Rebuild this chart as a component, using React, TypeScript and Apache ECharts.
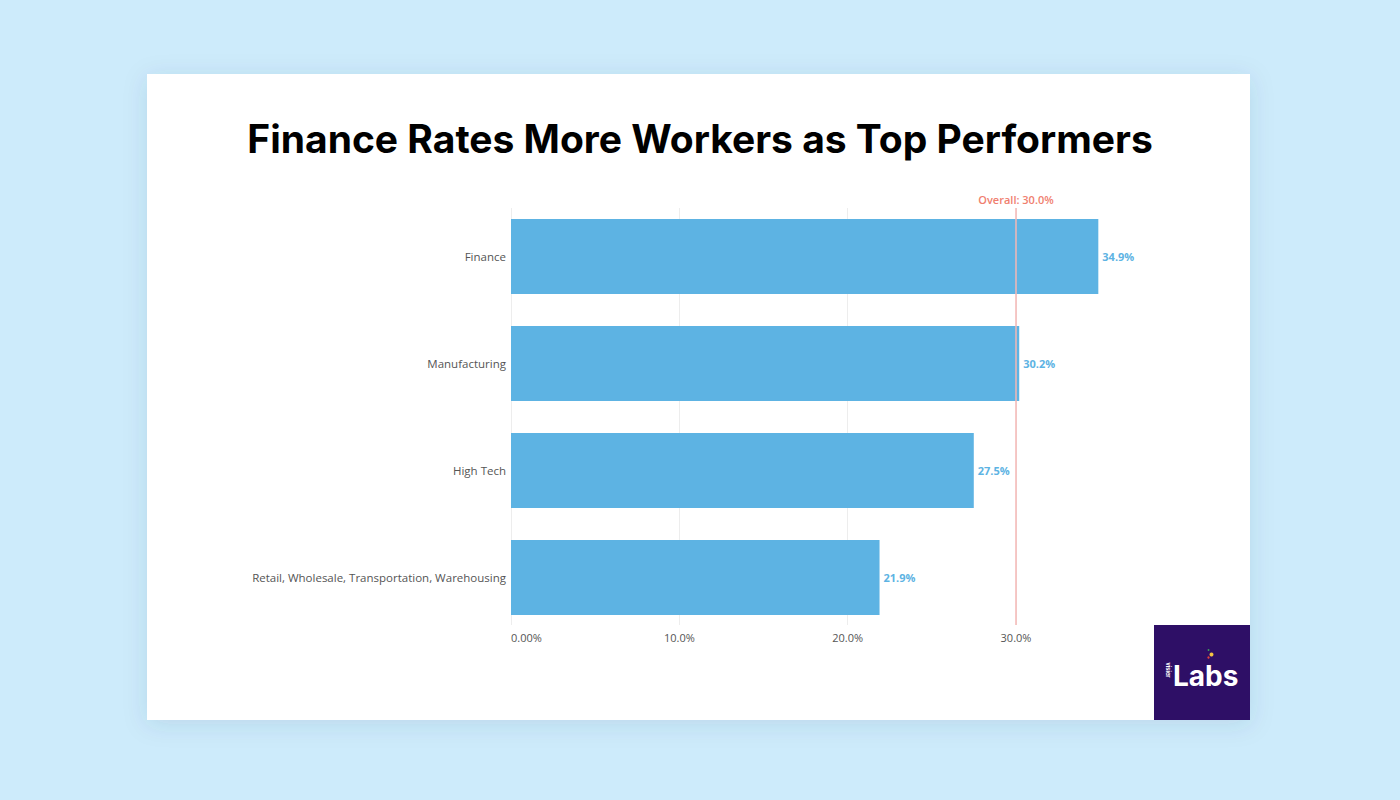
import React, { useEffect, useRef } from "react";
import * as echarts from "echarts";

const categories = [
  "Finance",
  "Manufacturing",
  "High Tech",
  "Retail, Wholesale, Transportation, Warehousing",
];
const values = [34.9, 30.2, 27.5, 21.9];
const overall = 30.0;
const tickValues = [0, 10, 20, 30];
const titleText = "Finance Rates More Workers as Top Performers";

const BAR = "#5DB3E3";
const LINE = "#F5B7B5";
const LINE_TEXT = "#F07E6E";

export default function App() {
  const ref = useRef<HTMLDivElement>(null);
  useEffect(() => {
    if (!ref.current) return;
    const chart = echarts.init(ref.current, undefined, { renderer: "svg" });
    const fmt = (v: number) => (v === 0 ? "0.00%" : v.toFixed(1) + "%");
    chart.setOption({
      animation: false,
      backgroundColor: "#CDEBFB",
      textStyle: { fontFamily: "Open Sans" },
      title: {
        text: titleText,
        left: "center",
        top: 114,
        textStyle: {
          fontFamily: "Inter",
          fontWeight: 700,
          fontSize: 39,
          color: "#000000",
        },
      },
      graphic: [
        {
          type: "rect",
          z: -10,
          shape: { x: 147, y: 74, width: 1103, height: 646 },
          style: {
            fill: "#ffffff",
            shadowBlur: 24,
            shadowColor: "rgba(40,80,110,0.12)",
            shadowOffsetY: 4,
          },
        },
        {
          type: "group",
          x: 1154,
          y: 625,
          z: 10,
          children: [
            { type: "rect", shape: { x: 0, y: 0, width: 96, height: 95 }, style: { fill: "#2E0F66" } },
            {
              type: "text",
              x: 19,
              y: 51,
              style: {
                text: "Labs",
                fill: "#ffffff",
                fontFamily: "Inter",
                fontWeight: 700,
                fontSize: 28,
                verticalAlign: "middle",
              },
            },
            {
              type: "text",
              x: 13.5,
              y: 45,
              rotation: -Math.PI / 2,
              style: {
                text: "visier",
                fill: "#ffffff",
                fontFamily: "Inter",
                fontWeight: 700,
                fontSize: 5.5,
                align: "center",
                verticalAlign: "middle",
              },
            },
            { type: "circle", shape: { cx: 57.5, cy: 29.5, r: 2 }, style: { fill: "#F5C542" } },
            { type: "circle", shape: { cx: 54.5, cy: 32.5, r: 1.2 }, style: { fill: "#E0403A" } },
            { type: "circle", shape: { cx: 54.5, cy: 25, r: 0.9 }, style: { fill: "#3BA55C" } },
          ],
        },
      ],
      grid: [
        { left: 511, top: 203, width: 589, height: 428 },
        { left: 511, top: 208, width: 505, height: 417 },
      ],
      xAxis: [
        {
          type: "value",
          gridIndex: 0,
          min: 0,
          max: 35,
          show: false,
          splitLine: { show: false },
        },
        {
          type: "value",
          gridIndex: 1,
          min: 0,
          max: 30,
          interval: 10,
          axisLine: { show: false },
          axisTick: { show: false },
          splitLine: { show: true, lineStyle: { color: "#EDEDED", width: 1 } },
          axisLabel: {
            color: "#555",
            fontSize: 11,
            margin: 7,
            alignMinLabel: "left",
            formatter: (v: number) => fmt(v),
            customValues: tickValues,
          },
        },
      ],
      yAxis: [
        {
          type: "category",
          gridIndex: 0,
          data: categories,
          inverse: true,
          axisLine: { show: false },
          axisTick: { show: false },
          axisLabel: { color: "#555", fontSize: 11.5, margin: 5 },
        },
        {
          type: "category",
          gridIndex: 1,
          data: categories,
          show: false,
        },
      ],
      series: [
        {
          type: "bar",
          xAxisIndex: 0,
          yAxisIndex: 0,
          data: values,
          barCategoryGap: "30%",
          itemStyle: { color: BAR },
          z: 3,
          label: {
            show: true,
            position: "right",
            distance: 4,
            color: BAR,
            fontSize: 11,
            fontWeight: 700,
            formatter: (p: any) => p.value.toFixed(1) + "%",
          },
        },
        {
          type: "bar",
          xAxisIndex: 1,
          yAxisIndex: 1,
          data: [],
          z: 4,
          markLine: {
            silent: true,
            symbol: ["none", "none"],
            lineStyle: { color: LINE, type: "solid", width: 1.5 },
            label: {
              show: true,
              position: "end",
              distance: 3,
              color: LINE_TEXT,
              fontSize: 11,
              fontWeight: 600,
              formatter: "Overall: " + overall.toFixed(1) + "%",
            },
            data: [{ xAxis: overall }],
          },
        },
      ],
    });
    return () => chart.dispose();
  }, []);
  return (
    <div
      ref={ref}
      style={{ position: "fixed", left: 0, top: 0, width: 1400, height: 800 }}
    />
  );
}
